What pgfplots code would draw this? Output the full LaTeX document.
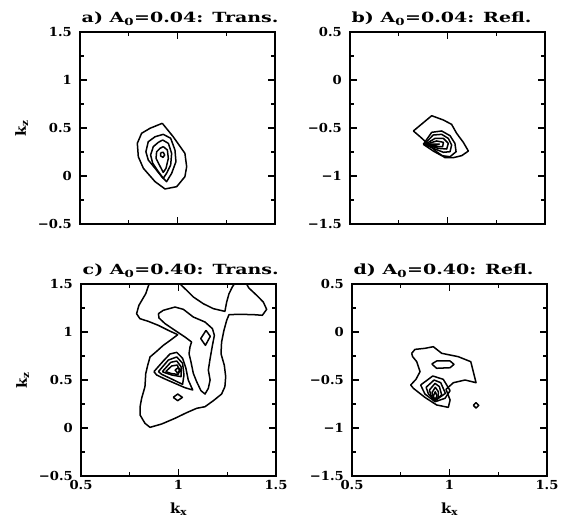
\documentclass[border=0pt]{standalone}
\usepackage{fontspec}
\setmainfont{DejaVu Serif}[FakeStretch=1.06]
\usepackage{graphicx}
\usepackage{pgfplots}
\pgfplotsset{compat=1.18}

\newcommand{\ttl}[1]{\scalebox{1.28}[1]{#1}}

\pgfplotsset{
  panel/.style={
    scale only axis, width=195pt, height=192pt,
    xmin=0.5, xmax=1.5,
    xtick={0.5,1,1.5}, minor xtick={0.75,1.25},
    tick align=inside, major tick length=7pt, minor tick length=4pt,
    tick style={black, line width=1.1pt},
    axis line style={line width=1.6pt},
    tick label style={font=\bfseries\fontsize{12.4}{13}\selectfont, inner sep=0pt},
    yticklabel style={xshift=-8pt},
    xticklabel style={yshift=-4pt},
    every axis title shift=0pt,
    title style={at={(axis description cs:0,1.047)}, anchor=base west,
      font=\bfseries\fontsize{14}{14}\selectfont, inner sep=0pt, xshift=1.5pt},
    xlabel style={at={(axis description cs:0.5,-0.193)}, anchor=base,
      font=\bfseries\fontsize{14}{14}\selectfont, inner sep=0pt},
    ylabel style={at={(axis description cs:-0.277,0.5)}, anchor=base,
      font=\bfseries\fontsize{14}{14}\selectfont, inner sep=0pt},
  },
  trans/.style={ymin=-0.5, ymax=1.5, ytick={-0.5,0,0.5,1,1.5},
    minor ytick={-0.25,0.25,0.75,1.25}, yticklabels={−0.5,0,0.5,1,1.5}},
  refl/.style={ymin=-1.5, ymax=0.5, ytick={-1.5,-1,-0.5,0,0.5},
    minor ytick={-1.25,-0.75,-0.25,0.25}, yticklabels={−1.5,−1,−0.5,0,0.5}},
  cline/.style={black, line width=1.5pt, line join=round, mark=none},
}

\begin{document}
\begin{tikzpicture}
\path[use as bounding box] (0pt,0pt) rectangle (561pt,-519pt);

% a) transmitted spectrum, small amplitude
\begin{axis}[panel, trans, at={(80pt,-32pt)}, anchor=north west,
  xticklabels={}, ylabel={k\textsubscript{z}},
  title={\ttl{a) A\textsubscript{0}=0.04: Trans.}}]
\addplot[cline] coordinates {(0.922,0.549) (0.978,0.409) (1.038,0.236) (1.047,0.097) (1.038,-0.007) (0.996,-0.111) (0.936,-0.135) (0.885,-0.059) (0.825,0.080) (0.799,0.201) (0.794,0.341) (0.816,0.445) (0.859,0.497) (0.922,0.549)};
\addplot[cline] coordinates {(0.927,0.434) (0.965,0.393) (0.987,0.271) (0.992,0.149) (0.970,0.028) (0.944,-0.059) (0.919,-0.007) (0.885,0.080) (0.850,0.167) (0.838,0.253) (0.850,0.357) (0.885,0.409) (0.927,0.434)};
\addplot[cline] coordinates {(0.924,0.375) (0.953,0.340) (0.970,0.236) (0.965,0.115) (0.944,0.028) (0.927,-0.024) (0.902,0.045) (0.873,0.132) (0.862,0.219) (0.876,0.306) (0.902,0.351) (0.924,0.375)};
\addplot[cline] coordinates {(0.927,0.306) (0.948,0.271) (0.953,0.184) (0.941,0.080) (0.927,0.038) (0.907,0.115) (0.890,0.184) (0.893,0.253) (0.910,0.288) (0.927,0.306)};
\addplot[cline] coordinates {(0.914,0.243) (0.927,0.247) (0.934,0.219) (0.926,0.194) (0.914,0.208) (0.914,0.243)};
\end{axis}

% b) reflected spectrum, small amplitude
\begin{axis}[panel, refl, at={(350pt,-32pt)}, anchor=north west,
  xticklabels={},
  title={\ttl{b) A\textsubscript{0}=0.04: Refl.}}]
\addplot[cline] coordinates {(0.825,-0.531) (0.919,-0.372) (0.979,-0.417) (1.021,-0.462) (1.047,-0.556) (1.081,-0.649) (1.107,-0.740) (1.073,-0.788) (1.030,-0.809) (0.987,-0.809) (0.944,-0.747) (0.902,-0.670) (0.859,-0.590) (0.825,-0.531)};
\addplot[cline] coordinates {(0.876,-0.670) (0.919,-0.545) (0.970,-0.531) (1.013,-0.580) (1.038,-0.660) (1.044,-0.747) (1.013,-0.799) (0.970,-0.788) (0.927,-0.740) (0.876,-0.670)};
\addplot[cline] coordinates {(0.880,-0.670) (0.927,-0.573) (0.970,-0.566) (1.004,-0.608) (1.021,-0.677) (1.013,-0.747) (0.979,-0.753) (0.936,-0.719) (0.880,-0.670)};
\addplot[cline] coordinates {(0.885,-0.670) (0.936,-0.608) (0.979,-0.608) (1.004,-0.660) (0.996,-0.719) (0.953,-0.712) (0.885,-0.670)};
\addplot[cline] coordinates {(0.890,-0.670) (0.944,-0.635) (0.979,-0.649) (0.975,-0.694) (0.927,-0.694) (0.890,-0.670)};
\addplot[cline] coordinates {(0.893,-0.670) (0.958,-0.667) (0.927,-0.688) (0.893,-0.670)};
\end{axis}

% c) transmitted spectrum, large amplitude
\begin{axis}[panel, trans, at={(81pt,-284pt)}, anchor=north west,
  xticklabels={0.5,1,1.5}, xlabel={k\textsubscript{x}}, ylabel={k\textsubscript{z}},
  title={\ttl{c) A\textsubscript{0}=0.40: Trans.}}]
\addplot[cline] coordinates {(0.849,1.500) (0.832,1.399) (0.797,1.278) (0.785,1.191) (0.802,1.139) (0.845,1.111) (0.897,1.069) (0.948,1.017) (0.996,0.972) (0.965,0.924) (0.922,0.861) (0.888,0.799) (0.854,0.740) (0.842,0.653) (0.832,0.566) (0.828,0.431) (0.811,0.309) (0.803,0.222) (0.803,0.135) (0.828,0.049) (0.854,0.007) (0.914,0.042) (0.982,0.101) (1.042,0.160) (1.093,0.205) (1.136,0.222) (1.179,0.285) (1.221,0.354) (1.238,0.431) (1.242,0.535) (1.235,0.653) (1.218,0.774) (1.221,0.896) (1.233,1.017) (1.247,1.121) (1.259,1.181) (1.315,1.184) (1.384,1.181) (1.430,1.174) (1.452,1.236) (1.435,1.312) (1.401,1.382) (1.361,1.458) (1.349,1.500)};
\addplot[cline] coordinates {(1.008,1.500) (1.042,1.434) (1.076,1.365) (1.127,1.295) (1.179,1.243) (1.238,1.215) (1.247,1.312) (1.259,1.399) (1.276,1.469) (1.286,1.500)};
\addplot[cline] coordinates {(0.897,1.191) (0.922,1.226) (0.982,1.260) (1.025,1.236) (1.076,1.156) (1.136,1.104) (1.174,1.035) (1.184,0.965) (1.174,0.861) (1.162,0.722) (1.153,0.604) (1.162,0.500) (1.153,0.413) (1.136,0.354) (1.115,0.389) (1.093,0.483) (1.076,0.569) (1.064,0.688) (1.054,0.774) (1.059,0.844) (1.067,0.896) (1.033,0.948) (0.982,1.017) (0.931,1.087) (0.900,1.146) (0.897,1.191)};
\addplot[cline] coordinates {(1.141,1.017) (1.163,0.955) (1.138,0.861) (1.114,0.931) (1.141,1.017)};
\addplot[cline] coordinates {(0.973,0.319) (0.996,0.354) (1.020,0.319) (0.996,0.285) (0.973,0.319)};
\addplot[cline] coordinates {(0.874,0.587) (0.922,0.698) (0.956,0.771) (0.991,0.788) (1.021,0.726) (1.038,0.622) (1.050,0.500) (1.073,0.396) (1.033,0.420) (0.982,0.465) (0.931,0.510) (0.888,0.552) (0.874,0.587)};
\addplot[cline] coordinates {(0.897,0.587) (0.948,0.708) (0.991,0.740) (1.021,0.674) (1.028,0.552) (1.021,0.455) (0.965,0.510) (0.914,0.559) (0.897,0.587)};
\addplot[cline] coordinates {(0.917,0.587) (0.960,0.684) (0.991,0.698) (1.013,0.639) (1.013,0.535) (0.965,0.552) (0.934,0.573) (0.917,0.587)};
\addplot[cline] coordinates {(0.934,0.587) (0.965,0.646) (0.994,0.656) (1.004,0.604) (0.999,0.559) (0.965,0.566) (0.934,0.587)};
\addplot[cline] coordinates {(0.982,0.604) (0.999,0.628) (1.013,0.597) (0.996,0.573) (0.982,0.604)};
\end{axis}

% d) reflected spectrum, large amplitude
\begin{axis}[panel, refl, at={(352pt,-284pt)}, anchor=north west,
  xticklabels={0.5,1,1.5}, xlabel={k\textsubscript{x}},
  title={\ttl{d) A\textsubscript{0}=0.40: Refl.}}]
\addplot[cline] coordinates {(0.806,-0.222) (0.823,-0.181) (0.874,-0.170) (0.917,-0.153) (0.960,-0.222) (1.045,-0.257) (1.109,-0.309) (1.122,-0.413) (1.136,-0.528) (1.080,-0.500) (1.020,-0.528) (0.982,-0.597) (1.003,-0.708) (0.994,-0.785) (0.934,-0.760) (0.874,-0.681) (0.815,-0.587) (0.801,-0.552) (0.828,-0.493) (0.849,-0.413) (0.832,-0.309) (0.811,-0.257) (0.806,-0.222)};
\addplot[cline] coordinates {(0.909,-0.333) (0.934,-0.302) (1.003,-0.302) (1.023,-0.337) (1.003,-0.372) (0.934,-0.378) (0.909,-0.333)};
\addplot[cline] coordinates {(0.852,-0.552) (0.914,-0.458) (0.968,-0.493) (1.003,-0.611) (0.977,-0.691) (0.926,-0.726) (0.874,-0.646) (0.852,-0.552)};
\addplot[cline] coordinates {(0.880,-0.576) (0.921,-0.500) (0.955,-0.528) (0.979,-0.639) (0.926,-0.715) (0.892,-0.646) (0.880,-0.576)};
\addplot[cline] coordinates {(0.897,-0.604) (0.926,-0.535) (0.948,-0.569) (0.960,-0.656) (0.924,-0.715) (0.904,-0.656) (0.897,-0.604)};
\addplot[cline] coordinates {(0.910,-0.632) (0.927,-0.576) (0.943,-0.622) (0.941,-0.691) (0.924,-0.715) (0.910,-0.632)};
\addplot[cline] coordinates {(0.917,-0.667) (0.927,-0.622) (0.936,-0.667) (0.924,-0.708) (0.917,-0.667)};
\addplot[cline] coordinates {(1.122,-0.764) (1.136,-0.736) (1.150,-0.764) (1.136,-0.792) (1.122,-0.764)};
\end{axis}
\end{tikzpicture}
\end{document}
